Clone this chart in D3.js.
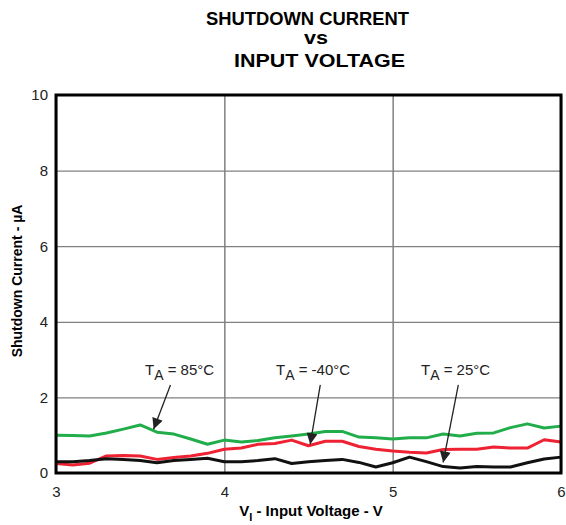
<!DOCTYPE html>
<html>
<head>
<meta charset="utf-8">
<script src="https://cdn.jsdelivr.net/npm/d3@7/dist/d3.min.js"></script>
<style>
  html, body { margin: 0; padding: 0; background: #fff; }
  svg { display: block; font-family: "Liberation Sans", Arial, sans-serif; }
</style>
</head>
<body>
<svg id="chart" width="566" height="525"></svg>
<script>
// ---- Data ----
const voltages = [3.0,3.1,3.2,3.3,3.4,3.5,3.6,3.7,3.8,3.9,4.0,4.1,4.2,4.3,4.4,4.5,4.6,4.7,4.8,4.9,5.0,5.1,5.2,5.3,5.4,5.5,5.6,5.7,5.8,5.9,6.0];
const current85 = [1.00,0.99,0.98,1.06,1.16,1.27,1.08,1.03,0.90,0.76,0.87,0.82,0.86,0.93,0.98,1.03,1.10,1.10,0.95,0.93,0.90,0.93,0.93,1.03,0.98,1.05,1.06,1.20,1.30,1.19,1.24];
const currentM40 = [0.25,0.21,0.26,0.45,0.46,0.45,0.36,0.41,0.45,0.52,0.63,0.66,0.76,0.78,0.87,0.72,0.84,0.84,0.70,0.63,0.58,0.55,0.53,0.62,0.63,0.63,0.69,0.66,0.66,0.88,0.82];
const current25 = [0.30,0.30,0.33,0.38,0.36,0.33,0.27,0.33,0.36,0.39,0.30,0.30,0.33,0.38,0.25,0.30,0.33,0.36,0.28,0.16,0.27,0.42,0.30,0.17,0.13,0.17,0.16,0.16,0.27,0.37,0.42];
const xTicks = [3, 4, 5, 6];
const yTicks = [0, 2, 4, 6, 8, 10];
const seriesNames = ["85°C", "-40°C", "25°C"];
const titleLines = ["SHUTDOWN CURRENT", "vs", "INPUT VOLTAGE"];

// ---- Layout ----
const svg = d3.select("#chart");
const x = d3.scaleLinear().domain([3, 6]).range([56, 561]);
const y = d3.scaleLinear().domain([0, 10]).range([473, 95]);

const series = [
  { name: seriesNames[0], values: current85, color: "#22ad4b" },
  { name: seriesNames[1], values: currentM40, color: "#ee2233" },
  { name: seriesNames[2], values: current25, color: "#111111" }
];

// Title
const titleX = [206, 304, 234];
const titleY = [25, 44, 67];
const titleLen = [203, 24, 171];
svg.selectAll("text.title").data(titleLines).join("text")
  .attr("class", "title")
  .attr("x", (d, i) => titleX[i])
  .attr("y", (d, i) => titleY[i])
  .attr("font-weight", "bold")
  .attr("font-size", 19)
  .attr("textLength", (d, i) => titleLen[i])
  .attr("lengthAdjust", "spacingAndGlyphs")
  .text(d => d);

// Gridlines
const gx = svg.append("g").attr("transform", `translate(0,${y(0)})`)
  .call(d3.axisBottom(x).tickValues(xTicks).tickSize(-(y(0) - y(10))).tickFormat(""));
gx.select(".domain").remove();
gx.selectAll("line").attr("stroke", "#808080").attr("stroke-width", 1.5);

const gy = svg.append("g").attr("transform", `translate(${x(3)},0)`)
  .call(d3.axisLeft(y).tickValues(yTicks).tickSize(-(x(6) - x(3))).tickFormat(""));
gy.select(".domain").remove();
gy.selectAll("line").attr("stroke", "#808080").attr("stroke-width", 1.2);

// Lines
const line = d3.line().x((d, i) => x(voltages[i])).y(d => y(d));
svg.selectAll("path.series").data(series).join("path")
  .attr("class", "series")
  .attr("fill", "none")
  .attr("stroke", d => d.color)
  .attr("stroke-width", 3)
  .attr("stroke-linejoin", "round")
  .attr("d", d => line(d.values));

// Frame
svg.append("rect")
  .attr("x", x(3)).attr("y", y(10))
  .attr("width", x(6) - x(3)).attr("height", y(0) - y(10))
  .attr("fill", "none").attr("stroke", "#000").attr("stroke-width", 3);

// Tick labels
const ax = svg.append("g").attr("transform", `translate(0,${y(0)})`)
  .call(d3.axisBottom(x).tickValues(xTicks).tickSize(0).tickPadding(13).tickFormat(d3.format("d")));
ax.select(".domain").remove();
ax.selectAll("text").attr("font-size", 15).attr("font-family", "Liberation Sans, Arial, sans-serif").attr("fill", "#222");

const ay = svg.append("g").attr("transform", `translate(${x(3)},0)`)
  .call(d3.axisLeft(y).tickValues(yTicks).tickSize(0).tickPadding(8).tickFormat(d3.format("d")));
ay.select(".domain").remove();
ay.selectAll("text").attr("font-size", 15).attr("font-family", "Liberation Sans, Arial, sans-serif").attr("fill", "#222");

// Axis titles
const xt = svg.append("text").attr("x", 311).attr("y", 516)
  .attr("text-anchor", "middle").attr("font-weight", "bold").attr("font-size", 15);
xt.append("tspan").text("V");
xt.append("tspan").attr("dy", 5).attr("font-size", 11).text("I");
xt.append("tspan").attr("dy", -5).text(" - Input Voltage - V");

svg.append("text")
  .attr("transform", `translate(22,281) rotate(-90)`)
  .attr("text-anchor", "middle").attr("font-weight", "bold").attr("font-size", 14)
  .text("Shutdown Current - µA");

// Annotations
const annots = [
  { name: seriesNames[0], tx: 145, ty: 375, from: [3.68, 2.33], to: [3.58, 1.16] },
  { name: seriesNames[1], tx: 276, ty: 375, from: [4.57, 2.33], to: [4.51, 0.76] },
  { name: seriesNames[2], tx: 421, ty: 375, from: [5.39, 2.33], to: [5.30, 0.28] }
];
svg.append("defs").append("marker")
  .attr("id", "arrow").attr("viewBox", "0 0 10 10")
  .attr("refX", 10).attr("refY", 5)
  .attr("markerWidth", 14).attr("markerHeight", 11)
  .attr("markerUnits", "userSpaceOnUse")
  .attr("orient", "auto")
  .append("path").attr("d", "M0,0 L10,5 L0,10 Z").attr("fill", "#222");

annots.forEach(a => {
  const t = svg.append("text").attr("x", a.tx).attr("y", a.ty).attr("font-size", 15).attr("fill", "#222");
  t.append("tspan").text("T");
  t.append("tspan").attr("dy", 5).attr("font-size", 14).text("A");
  t.append("tspan").attr("dy", -5).text(" = " + a.name);
  svg.append("line")
    .attr("x1", x(a.from[0])).attr("y1", y(a.from[1]))
    .attr("x2", x(a.to[0])).attr("y2", y(a.to[1]))
    .attr("stroke", "#222").attr("stroke-width", 1.3)
    .attr("marker-end", "url(#arrow)");
});
</script>
</body>
</html>
